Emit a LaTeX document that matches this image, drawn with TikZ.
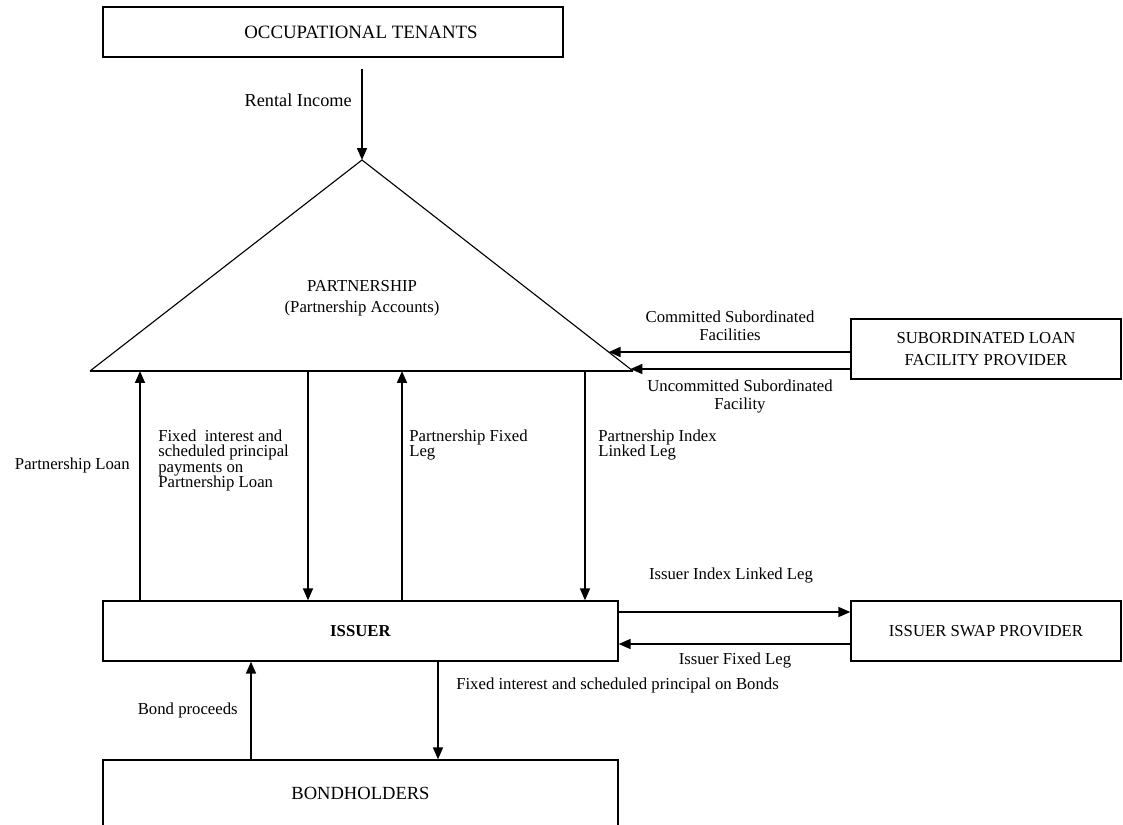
\documentclass[tikz,border=0pt]{standalone}
\usepackage{fontspec}
\setmainfont{Liberation Serif}
\usetikzlibrary{arrows.meta,calc}

\tikzset{
  box/.style={draw, line width=0.9pt, inner sep=0pt, align=center},
  flow/.style={line width=1.4pt, -{Triangle[length=8.5pt,width=7pt]}},
  lbl/.style={inner sep=0pt, align=left},
  lblc/.style={inner sep=0pt, align=center},
}

\begin{document}
\begin{tikzpicture}[font=\fontsize{11.9}{11}\selectfont]
\useasboundingbox (0,0) rectangle (28.075,-20.6);

\node[box, minimum width=11.5cm, minimum height=1.25cm, font=\fontsize{13.4}{15}\selectfont] (tenants) at (8.325,-0.8) {\hspace*{1.4cm}OCCUPATIONAL TENANTS};

\coordinate (apex) at (9.05,-4);
\coordinate (pbl) at (2.25,-9.275);
\coordinate (pbr) at (15.825,-9.275);
\draw[line width=0.8pt] (pbl) -- (apex) -- (pbr);
\draw[line width=1pt] (pbl) -- (pbr);
\node[lblc, font=\fontsize{11.9}{15}\selectfont] (partnership) at (9.05,-7.46) {PARTNERSHIP\\(Partnership Accounts)};

\draw[flow, shorten <=0.275cm] (apex |- tenants.south) -- (apex);
\node[lbl, anchor=east, font=\fontsize{13}{15}\selectfont] (rental) at (8.8,-2.5) {Rental Income};

\node[box, minimum width=6.75cm, minimum height=1.5cm, font=\fontsize{11.9}{15.5}\selectfont] (sub) at (24.65,-8.725) {SUBORDINATED LOAN\\FACILITY PROVIDER};
\coordinate (csf) at ($(apex)!0.91!(pbr)$);
\coordinate (usf) at ($(apex)!0.9905!(pbr)$);
\draw[flow] (sub.west |- csf) -- (csf);
\draw[flow] (sub.west |- usf) -- (usf);
\node[lblc, font=\fontsize{11.9}{12.8}\selectfont] (committed) at (18.25,-8.15) {Committed Subordinated\\Facilities};
\node[lblc, font=\fontsize{11.9}{12.8}\selectfont] (uncommitted) at (18.5,-9.9) {Uncommitted Subordinated\\Facility};

\node[box, minimum width=12.875cm, minimum height=1.5cm] (issuer) at (9.0125,-15.775) {\textbf{ISSUER}};
\node[box, minimum width=6.75cm, minimum height=1.5cm] (swap) at (24.65,-15.775) {ISSUER SWAP PROVIDER};

\coordinate (ploan) at (3.5,-9.275);
\coordinate (pint) at (7.7,-9.275);
\coordinate (pfix) at (10.05,-9.275);
\coordinate (pidx) at (14.625,-9.275);
\draw[flow] (ploan |- issuer.north) -- (ploan);
\draw[flow] (pint) -- (pint |- issuer.north);
\draw[flow] (pfix |- issuer.north) -- (pfix);
\draw[flow] (pidx) -- (pidx |- issuer.north);

\node[lbl, anchor=east] (loanlbl) at (3.25,-11.625) {Partnership Loan};
\node[lbl, anchor=north west] (intlbl) at (3.95,-10.74) {Fixed\ \ interest and\\scheduled principal\\payments on\\Partnership Loan};
\node[lbl, anchor=north west] (fixlbl) at (10.225,-10.74) {Partnership Fixed\\Leg};
\node[lbl, anchor=north west] (idxlbl) at (14.95,-10.74) {Partnership Index\\Linked Leg};

\draw[flow] ([yshift=0.475cm]issuer.east) -- ([yshift=0.475cm]swap.west);
\draw[flow] ([yshift=-0.325cm]swap.west) -- ([yshift=-0.325cm]issuer.east);
\node[lblc] (idxleg) at (18.275,-14.375) {Issuer Index Linked Leg};
\node[lblc] (fixleg) at (18.375,-16.5) {Issuer Fixed Leg};

\node[box, minimum width=12.875cm, minimum height=1.65cm, font=\fontsize{13.2}{15}\selectfont] (bond) at (9.0125,-19.825) {BONDHOLDERS};
\coordinate (bp) at (6.275,-18);
\coordinate (bi) at (10.95,-18);
\draw[flow] (bp |- bond.north) -- (bp |- issuer.south);
\draw[flow] (bi |- issuer.south) -- (bi |- bond.north);
\node[lbl, anchor=east] (bplbl) at (5.95,-17.75) {Bond proceeds};
\node[lbl, anchor=west] (bilbl) at (11.4,-17.125) {Fixed interest and scheduled principal on Bonds};
\end{tikzpicture}
\end{document}
